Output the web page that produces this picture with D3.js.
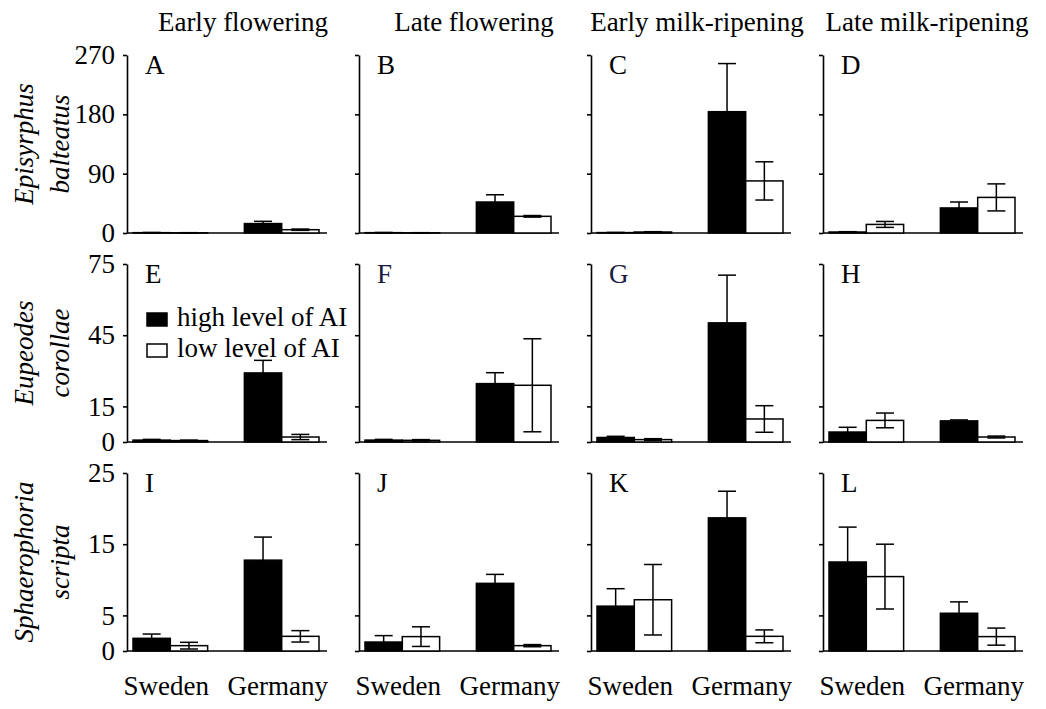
<!DOCTYPE html>
<html>
<head>
<meta charset="utf-8">
<script src="https://cdn.jsdelivr.net/npm/d3@7"></script>
<style>
  html, body { margin: 0; padding: 0; background: #fff; }
</style>
</head>
<body>
<svg id="chart" width="1046" height="709"></svg>
<script>
// ---------- data ----------
const stages = ["Early flowering", "Late flowering", "Early milk-ripening", "Late milk-ripening"];
const speciesLines = [["Episyrphus", "balteatus"], ["Eupeodes", "corollae"], ["Sphaerophoria", "scripta"]];
const countries = ["Sweden", "Germany"];
const levels = ["high level of AI", "low level of AI"];
const panelLetters = [["A", "B", "C", "D"], ["E", "F", "G", "H"], ["I", "J", "K", "L"]];
const yMax = [270, 75, 25];
const yTicks = [[0, 90, 180, 270], [0, 15, 45, 75], [0, 5, 15, 25]];

// means [row][stage] = [Sweden, Germany]
const highMean = [
  [[0.5, 14.3], [0.5, 47], [0.6, 184], [1.5, 38]],
  [[0.8, 29.1], [0.8, 24.6], [1.9, 50.2], [4.2, 8.9]],
  [[1.78, 12.76], [1.26, 9.5], [6.3, 18.7], [12.5, 5.3]]
];
const highErr = [
  [[0.3, 3.4], [0.3, 11], [0.3, 73], [0.5, 9]],
  [[0.3, 5.3], [0.3, 4.6], [0.5, 20.1], [2.0, 0.4]],
  [[0.6, 3.24], [0.9, 1.26], [2.45, 3.74], [4.9, 1.6]]
];
const lowMean = [
  [[0.3, 5], [0.3, 25.3], [1.5, 79], [13, 54]],
  [[0.6, 2.1], [0.7, 23.9], [1.0, 9.7], [9.1, 2.1]],
  [[0.75, 2.06], [2.02, 0.75], [7.2, 2.06], [10.45, 2.02]]
];
const lowErr = [
  [[0.2, 1], [0.2, 1.2], [0.5, 29], [4.5, 20.5]],
  [[0.2, 1.1], [0.3, 19.6], [0.4, 5.6], [3.1, 0.4]],
  [[0.47, 0.8], [1.38, 0.15], [4.95, 0.9], [4.55, 1.2]]
];

// ---------- layout ----------
const FONT = "'Liberation Serif', 'Times New Roman', Tinos, 'DejaVu Serif', 'Noto Serif', serif";
const svg = d3.select("#chart");
const font = 27;
const colScale = d3.scaleBand().domain(d3.range(4)).range([127, 127 + 4 * 232]);
const rowScale = d3.scaleBand().domain(d3.range(3)).range([55, 55 + 3 * 209]);
const panelH = 178, panelW = 200;
const xCountry = d3.scaleBand().domain(countries).range([6, 192]).paddingInner(0.33).paddingOuter(0);
const xLevel = d3.scaleBand().domain(["high", "low"]).range([0, xCountry.bandwidth()]);
const titleCenters = [243, 474, 697, 927];
const letterColor = [["#000", "#000", "#000", "#000"], ["#000", "#1a1a40", "#1a1a40", "#000"], ["#000", "#000", "#000", "#000"]];
const capHalf = 9;

function txt(sel) {
  return sel.append("text").attr("font-family", FONT).style("font-family", FONT)
    .attr("font-size", font).attr("fill", "#000");
}

// titles
stages.forEach((s, c) => {
  txt(svg).attr("x", titleCenters[c]).attr("y", 31).attr("text-anchor", "middle").text(s);
});

for (let r = 0; r < 3; r++) {
  const top = rowScale(r);
  const y = d3.scaleLinear().domain([0, yMax[r]]).range([top + panelH, top]);

  // species label
  const cy = top + panelH / 2;
  [33, 69].forEach((bx, i) => {
    txt(svg).attr("transform", `translate(${bx},${cy}) rotate(-90)`)
      .attr("text-anchor", "middle").attr("font-style", "italic")
      .text(speciesLines[r][i]);
  });

  for (let c = 0; c < 4; c++) {
    const left = colScale(c);
    const g = svg.append("g").attr("transform", `translate(${left},0)`);

    // y axis
    const axis = d3.axisLeft(y).tickValues(yTicks[r]).tickSize(4).tickSizeOuter(0).tickPadding(8);
    if (c > 0) axis.tickFormat("");
    const ag = g.append("g").call(axis).attr("font-family", FONT).attr("font-size", font);
    ag.select(".domain").attr("stroke", "#000").attr("stroke-width", 1.6);
    ag.selectAll(".tick line").attr("stroke", "#000").attr("stroke-width", 1.6);
    ag.selectAll(".tick text").attr("font-size", font).style("font-family", FONT).attr("fill", "#000");

    // baseline
    g.append("line").attr("x1", 0).attr("x2", panelW).attr("y1", y(0)).attr("y2", y(0))
      .attr("stroke", "#000").attr("stroke-width", 1.6);

    // bars
    const bars = [];
    countries.forEach((cn, k) => {
      bars.push({ country: cn, level: "high", m: highMean[r][c][k], e: highErr[r][c][k] });
      bars.push({ country: cn, level: "low", m: lowMean[r][c][k], e: lowErr[r][c][k] });
    });
    g.selectAll("rect.bar").data(bars).enter().append("rect")
      .attr("class", "bar")
      .attr("x", d => xCountry(d.country) + xLevel(d.level))
      .attr("width", xLevel.bandwidth())
      .attr("y", d => y(d.m))
      .attr("height", d => y(0) - y(d.m))
      .attr("fill", d => d.level === "high" ? "#000" : "#fff")
      .attr("stroke", "#000").attr("stroke-width", 1.5);

    // error bars
    bars.forEach(d => {
      const cx = xCountry(d.country) + xLevel(d.level) + xLevel.bandwidth() / 2;
      const yTop = y(d.m + d.e);
      const yBot = y(Math.max(0, d.m - d.e));
      g.append("line").attr("x1", cx).attr("x2", cx).attr("y1", yTop).attr("y2", yBot)
        .attr("stroke", "#000").attr("stroke-width", 1.5);
      g.append("line").attr("x1", cx - capHalf).attr("x2", cx + capHalf).attr("y1", yTop).attr("y2", yTop)
        .attr("stroke", "#000").attr("stroke-width", 1.5);
      if (d.m - d.e > 0) {
        g.append("line").attr("x1", cx - capHalf).attr("x2", cx + capHalf).attr("y1", yBot).attr("y2", yBot)
          .attr("stroke", "#000").attr("stroke-width", 1.5);
      }
    });

    // panel letter
    txt(g).attr("x", 18).attr("y", top + 18.5)
      .attr("fill", letterColor[r][c]).text(panelLetters[r][c]);

    // x labels on bottom row
    if (r === 2) {
      countries.forEach(cn => {
        txt(g).attr("x", xCountry(cn) + xCountry.bandwidth() / 2 - 4).attr("y", 695)
          .attr("text-anchor", "middle").text(cn);
      });
    }

    // legend in panel E
    if (r === 1 && c === 0) {
      levels.forEach((lv, i) => {
        const ly = top + 49 + i * 31;
        g.append("rect").attr("x", 20).attr("y", ly).attr("width", 20).attr("height", 13)
          .attr("fill", i === 0 ? "#000" : "#fff").attr("stroke", "#000").attr("stroke-width", 1.5);
        txt(g).attr("x", 50).attr("y", ly + 13).text(lv);
      });
    }
  }
}
</script>
</body>
</html>
